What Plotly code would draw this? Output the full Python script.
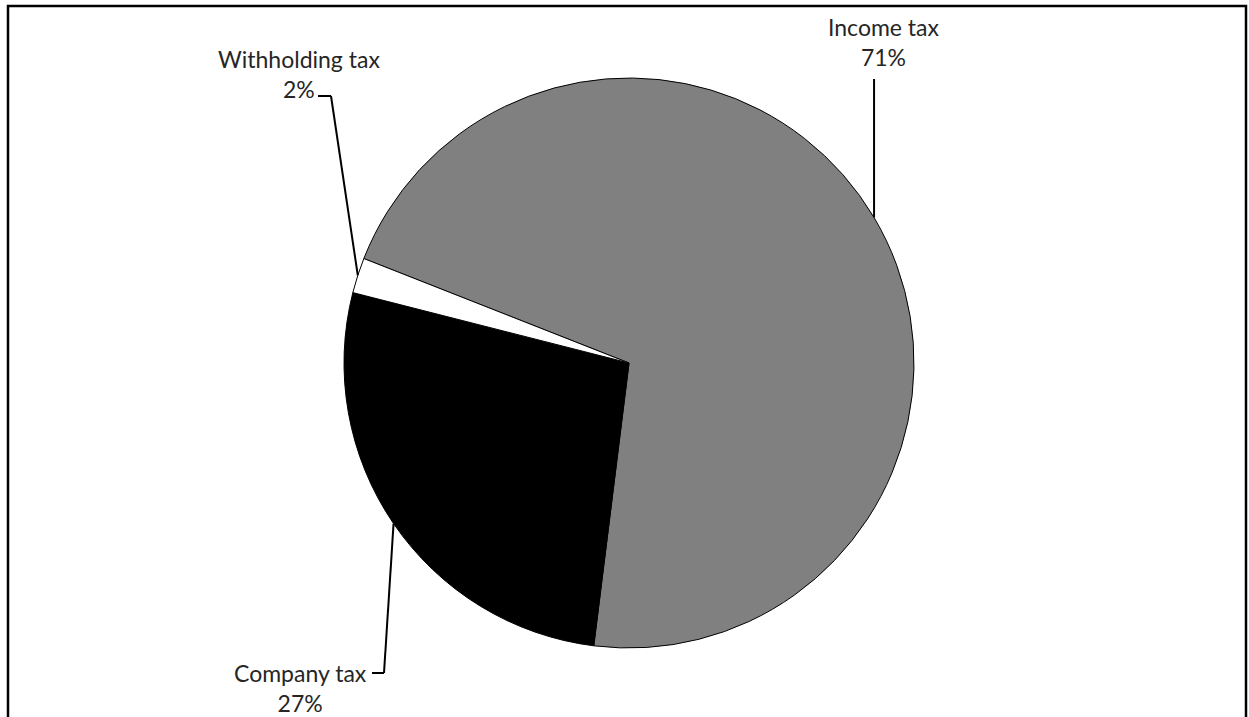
import math
import plotly.graph_objects as go

# Tax revenue shares (percent)
labels = ["Income tax", "Company tax", "Withholding tax"]
values = [71, 27, 2]
colors = ["#808080", "#000000", "#ffffff"]

W, H = 1249, 717
CX, CY, R = 629, 363, 285       # pie centre and radius in pixels
ROTATION = 291.5                # start angle of first slice, clockwise from 12 o'clock


def px(x):
    return x / W


def py(y):
    return 1 - y / H


fig = go.Figure(
    go.Pie(
        labels=labels,
        values=values,
        sort=False,
        direction="clockwise",
        rotation=ROTATION,
        marker=dict(colors=colors, line=dict(color="#000000", width=1)),
        textinfo="none",
        hoverinfo="label+percent",
        showlegend=False,
        domain=dict(x=[px(CX - R), px(CX + R)], y=[py(CY + R), py(CY - R)]),
    )
)

# Point on the rim at the middle of each slice
total = sum(values)
rim = []
acc = 0
for v in values:
    ang = math.radians(ROTATION + 360 * (acc + v / 2) / total)
    rim.append((CX + R * math.sin(ang), CY - R * math.cos(ang)))
    acc += v

# Label placement (pixel centre of each text block) and leader elbows
label_pos = {
    "Income tax": (884, 42),
    "Company tax": (300, 688),
    "Withholding tax": (299, 74),
}
leaders = {
    "Income tax": [(rim[0][0], 79)],
    "Company tax": [(372, 673), (384, 673)],
    "Withholding tax": [(318, 96), (331, 96)],
}

line_style = dict(color="#000000", width=2)
shapes = []
for i, name in enumerate(labels):
    pts = leaders[name] + [rim[i]]
    for (x0, y0), (x1, y1) in zip(pts[:-1], pts[1:]):
        shapes.append(dict(type="line", xref="paper", yref="paper",
                           x0=px(x0), y0=py(y0), x1=px(x1), y1=py(y1),
                           line=line_style))

# Chart border
shapes.append(dict(type="rect", xref="paper", yref="paper",
                   x0=px(8), y0=py(730), x1=px(1246), y1=py(6),
                   line=dict(color="#000000", width=2.5), fillcolor="rgba(0,0,0,0)"))

annotations = []
for name, v in zip(labels, values):
    x, y = label_pos[name]
    annotations.append(dict(
        x=px(x), y=py(y), xref="paper", yref="paper",
        text=f"{name}<br>{v}%", showarrow=False,
        xanchor="center", yanchor="middle", align="center",
        font=dict(family="Lato", size=23, color="#262626"),
    ))

fig.update_layout(
    width=W, height=H,
    margin=dict(l=0, r=0, t=0, b=0),
    paper_bgcolor="#ffffff",
    plot_bgcolor="#ffffff",
    shapes=shapes,
    annotations=annotations,
)

fig.write_html("out.html")
